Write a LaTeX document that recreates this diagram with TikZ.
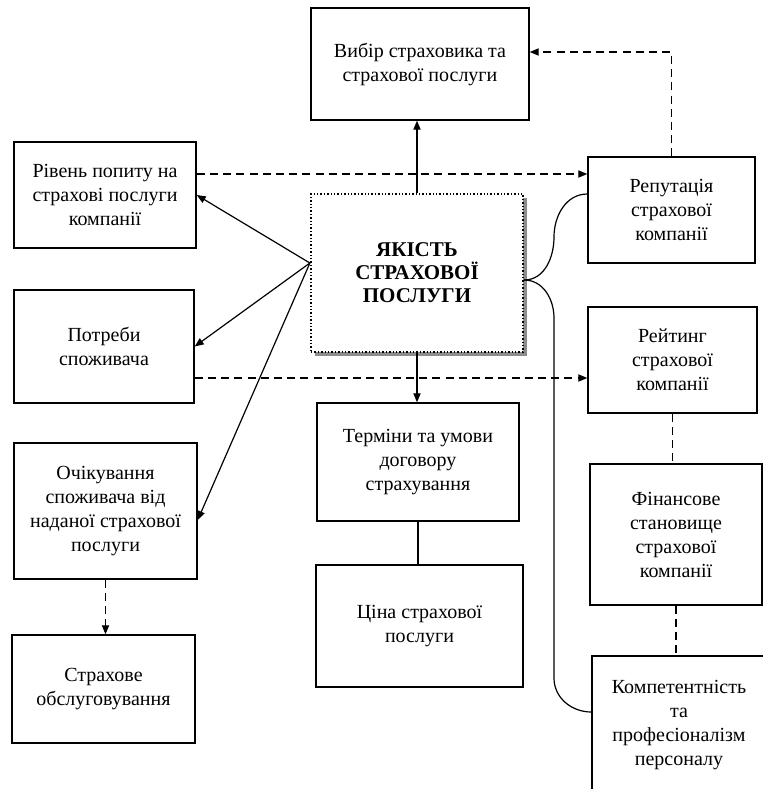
\documentclass[tikz,border=0pt]{standalone}
\usepackage{fontspec}
\setmainfont{Liberation Serif}
\usetikzlibrary{%
  arrows.meta
 ,shadows
}
\tikzstyle{fig}=[x=0.5pt,y=-0.5pt,line join=miter]
\tikzstyle{bx}=[rectangle,draw=black,line width=0.7pt,fill=white,align=center,inner sep=2pt,font=\fontsize{10pt}{12pt}\selectfont]
\tikzstyle{core}=[bx,densely dotted,line width=1.1pt,font=\bfseries\fontsize{10.5pt}{11.5pt}\selectfont,drop shadow={shadow xshift=2pt,shadow yshift=-2pt,fill=black!45,opacity=1}]
\tikzstyle{lnk}=[line width=0.6pt,-{Triangle[length=4.5pt,width=3.6pt]}]
\tikzstyle{dsh}=[line width=0.6pt,dash pattern=on 4pt off 2.6pt]

\begin{document}
\begin{tikzpicture}[fig]
      \clip (0,0) rectangle (763,789);
      \node[bx,minimum width=109pt,minimum height=56pt] (v_0) at (420,64) {Вибір страховика та\\страхової послуги};
      \node[core,minimum width=106pt,minimum height=79pt] (c_0) at (417,273) {ЯКІСТЬ\\СТРАХОВОЇ\\ПОСЛУГИ};
      % left column
      \node[bx,minimum width=91pt,minimum height=53pt] (l_1) at (105,195) {Рівень попиту на\\страхові послуги\\компанії};
      \node[bx,minimum width=90pt,minimum height=56.5pt] (l_2) at (104,346.5) {Потреби\\споживача};
      \node[bx,minimum width=91.5pt,minimum height=68pt] (l_3) at (105.5,511) {Очікування\\споживача від\\наданої страхової\\послуги};
      \node[bx,minimum width=91.5pt,minimum height=54pt] (l_4) at (103.5,689) {Страхове\\обслуговування};
      % middle column
      \node[bx,minimum width=101pt,minimum height=59pt] (m_1) at (418,462) {Терміни та умови\\договору\\страхування};
      \node[bx,minimum width=103.5pt,minimum height=61pt] (m_2) at (419.5,626) {Ціна страхової\\послуги};
      % right column
      \node[bx,minimum width=83.5pt,minimum height=53pt] (r_1) at (671.5,210) {Репутація\\страхової\\компанії};
      \node[bx,minimum width=84.5pt,minimum height=53pt] (r_2) at (672.5,360) {Рейтинг\\страхової\\компанії};
      \node[bx,minimum width=86pt,minimum height=70.5pt] (r_3) at (676,534.5) {Фінансове\\становище\\страхової\\компанії};
      \node[bx,minimum width=87pt,minimum height=69pt] (r_4) at (679,725) {Компетентність\\та\\професіоналізм\\персоналу};
      \coordinate (h_0) at ([yshift=5pt]c_0.west);
      \coordinate (k_1) at (554,237);
      \coordinate (k_2) at (554,318);
      \coordinate (k_3) at (554,678);
      \path[lnk]
        (c_0.north) edge (c_0.north |- v_0.south)
        (c_0.south) edge (c_0.south |- m_1.north)
        (h_0) edge (l_1.east)
        (h_0) edge (l_2.east)
        (h_0) edge ([yshift=-4.5pt]l_3.east);
      \path[dsh]
        ([yshift=10.5pt]l_1.east) edge[lnk] ([yshift=10.5pt]l_1.east -| r_1.west)
        ([yshift=-15.75pt]l_2.east) edge[lnk] ([yshift=-15.75pt]l_2.east -| r_2.west)
        (l_3.south) edge[lnk] (l_3.south |- l_4.north)
        (r_2.south) edge (r_2.south |- r_3.north)
        (r_3.south) edge (r_3.south |- r_4.north);
      \draw[dsh,lnk] (r_1.north) |- ([yshift=6pt]v_0.east);
      \draw[line width=0.6pt] (m_1.south) -- (m_1.south |- m_2.north);
      \draw[line width=0.6pt] ([yshift=-3.5pt]c_0.east) to[out=0,in=-90] (k_1) to[out=90,in=180] ([yshift=8pt]r_1.west);
      \draw[line width=0.6pt] ([yshift=-3.5pt]c_0.east) to[out=0,in=90] (k_2) -- (k_3) to[out=-90,in=180] ([yshift=6.5pt]r_4.west);
    \end{tikzpicture}
\end{document}
